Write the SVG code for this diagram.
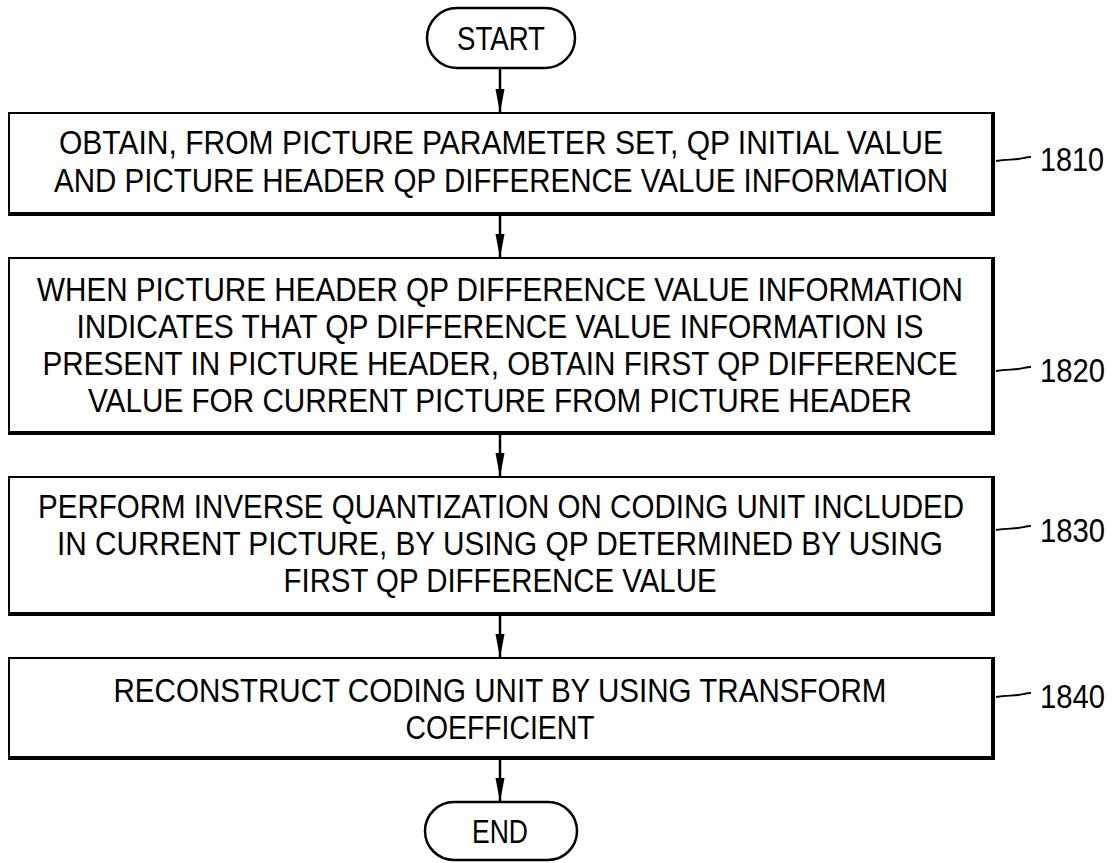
<svg xmlns="http://www.w3.org/2000/svg" width="1119" height="863" viewBox="0 0 1119 863">
<style>
  .box { fill: #fff; stroke: #000; stroke-width: 2; }
  .shadow { fill: none; stroke: #000; stroke-width: 4; stroke-linecap: square; }
  .term { fill: #fff; stroke: #000; stroke-width: 2.5; }
  .t { font-family: "Liberation Sans", Arial, sans-serif; font-size: 33px; fill: #000; text-anchor: middle; }
  .lbl { font-family: "Liberation Sans", Arial, sans-serif; font-size: 33px; fill: #000; }
  .conn { stroke: #000; stroke-width: 2.5; fill: none; }
  .lead { stroke: #000; stroke-width: 1.8; fill: none; }
</style>
<defs>
  <marker id="ah" markerWidth="24" markerHeight="10" refX="24" refY="5" orient="auto" markerUnits="userSpaceOnUse" viewBox="0 0 24 10">
    <path d="M0 0.5 L24 5 L0 9.5 Z" fill="#000"/>
  </marker>
</defs>

<g id="start">
  <rect class="term" x="427" y="8" width="148" height="60" rx="30" ry="30"/>
  <text class="t" x="501" y="50" textLength="88" lengthAdjust="spacingAndGlyphs">START</text>
</g>

<g id="n1810">
  <rect class="box" x="9" y="113" width="983" height="100"/>
  <path class="shadow" d="M993 114 V214 H10"/>
  <text class="t" x="501" y="154" textLength="884" lengthAdjust="spacingAndGlyphs">OBTAIN, FROM PICTURE PARAMETER SET, QP INITIAL VALUE</text>
  <text class="t" x="501" y="192" textLength="894" lengthAdjust="spacingAndGlyphs">AND PICTURE HEADER QP DIFFERENCE VALUE INFORMATION</text>
</g>

<g id="n1820">
  <rect class="box" x="9" y="258" width="983" height="174"/>
  <path class="shadow" d="M993 259 V433 H10"/>
  <text class="t" x="500" y="301" textLength="926" lengthAdjust="spacingAndGlyphs">WHEN PICTURE HEADER QP DIFFERENCE VALUE INFORMATION</text>
  <text class="t" x="500" y="338" textLength="847" lengthAdjust="spacingAndGlyphs">INDICATES THAT QP DIFFERENCE VALUE INFORMATION IS</text>
  <text class="t" x="500" y="375" textLength="915" lengthAdjust="spacingAndGlyphs">PRESENT IN PICTURE HEADER, OBTAIN FIRST QP DIFFERENCE</text>
  <text class="t" x="500" y="412" textLength="824" lengthAdjust="spacingAndGlyphs">VALUE FOR CURRENT PICTURE FROM PICTURE HEADER</text>
</g>

<g id="n1830">
  <rect class="box" x="9" y="477" width="983" height="136"/>
  <path class="shadow" d="M993 478 V614 H10"/>
  <text class="t" x="501" y="518" textLength="926" lengthAdjust="spacingAndGlyphs">PERFORM INVERSE QUANTIZATION ON CODING UNIT INCLUDED</text>
  <text class="t" x="500" y="555" textLength="886" lengthAdjust="spacingAndGlyphs">IN CURRENT PICTURE, BY USING QP DETERMINED BY USING</text>
  <text class="t" x="500" y="592" textLength="433" lengthAdjust="spacingAndGlyphs">FIRST QP DIFFERENCE VALUE</text>
</g>

<g id="n1840">
  <rect class="box" x="9" y="658" width="983" height="99"/>
  <path class="shadow" d="M993 659 V758 H10"/>
  <text class="t" x="500" y="702" textLength="773" lengthAdjust="spacingAndGlyphs">RECONSTRUCT CODING UNIT BY USING TRANSFORM</text>
  <text class="t" x="500" y="739" textLength="189" lengthAdjust="spacingAndGlyphs">COEFFICIENT</text>
</g>

<g id="end">
  <rect class="term" x="425" y="802" width="152" height="58" rx="29" ry="29"/>
  <text class="t" x="500" y="843" textLength="56" lengthAdjust="spacingAndGlyphs">END</text>
</g>

<g id="connectors">
  <line class="conn" x1="500" y1="68" x2="500" y2="113" marker-end="url(#ah)"/>
  <line class="conn" x1="500" y1="215" x2="500" y2="258" marker-end="url(#ah)"/>
  <line class="conn" x1="500" y1="434" x2="500" y2="477" marker-end="url(#ah)"/>
  <line class="conn" x1="500" y1="615" x2="500" y2="658" marker-end="url(#ah)"/>
  <line class="conn" x1="500" y1="759" x2="500" y2="802" marker-end="url(#ah)"/>
</g>

<g id="labels">
  <path class="lead" d="M996 161 C1006 159, 1012 160, 1018 159 S1026 157, 1031 157"/>
  <text class="lbl" x="1040" y="171" textLength="64" lengthAdjust="spacingAndGlyphs">1810</text>
  <path class="lead" d="M996 371 C1006 369, 1012 370, 1018 369 S1026 367, 1031 367"/>
  <text class="lbl" x="1040" y="382" textLength="65" lengthAdjust="spacingAndGlyphs">1820</text>
  <path class="lead" d="M996 530 C1006 528, 1012 529, 1018 528 S1026 526, 1031 526"/>
  <text class="lbl" x="1040" y="542" textLength="65" lengthAdjust="spacingAndGlyphs">1830</text>
  <path class="lead" d="M996 697 C1006 695, 1012 696, 1018 695 S1026 693, 1031 693"/>
  <text class="lbl" x="1040" y="708" textLength="65" lengthAdjust="spacingAndGlyphs">1840</text>
</g>
</svg>
